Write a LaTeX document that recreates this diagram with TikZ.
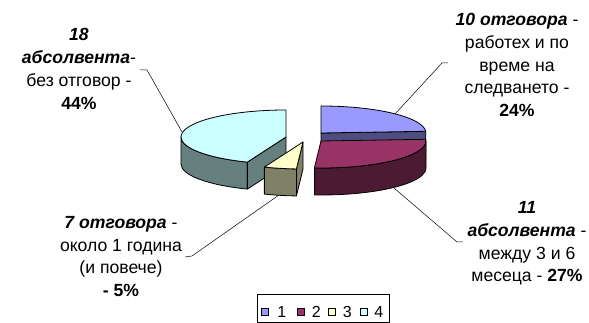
\documentclass[tikz,border=0pt]{standalone}
\usepackage{fontspec}
\setmainfont{Liberation Sans}
\usepackage{tikz}
\usetikzlibrary{positioning}

\definecolor{blueTop}{HTML}{9999FF}
\definecolor{blueSide}{HTML}{4D4D80}
\definecolor{wineTop}{HTML}{993366}
\definecolor{wineSide}{HTML}{4D1A33}
\definecolor{creamTop}{HTML}{FFFFCC}
\definecolor{creamSide}{HTML}{808066}
\definecolor{aquaTop}{HTML}{CCFFFF}
\definecolor{aquaSide}{HTML}{668080}

\tikzset{
  face/.style={draw=black,line width=0.8pt,line join=round},
  lbl/.style={align=center,inner sep=0pt,font=\fontsize{17.6pt}{22.8pt}\selectfont},
  leader/.style={draw=black,line width=0.5pt},
  legsq/.style={draw=black,line width=0.5pt,minimum size=7pt,inner sep=0pt},
  legtxt/.style={inner sep=0pt,font=\fontsize{16pt}{18pt}\selectfont}
}

\begin{document}
\begin{tikzpicture}[x=1pt,y=1pt]
  \useasboundingbox (0,0) rectangle (589,323);

  % Spitzen der Sektoren
  \coordinate (ctrAqua) at (286,186);
  \coordinate (ctrBlue) at (321,190);
  \coordinate (ctrWine) at (321,182);
  \coordinate (ctrCream) at (303,181);

  % Sektor 4 (44%)
  \begin{scope}[shift={(ctrAqua)}]
    \path[face,fill=aquaSide] (180:105pt and 27pt) arc[start angle=180,end angle=248.4,x radius=105pt,y radius=27pt]
      -- ++(0,-27) arc[start angle=248.4,end angle=180,x radius=105pt,y radius=27pt] -- cycle;
    \path[face,fill=aquaSide] (0,0) -- (248.4:105pt and 27pt) -- ++(0,-27) -- (0,-27) -- cycle;
    \path[face,fill=aquaTop] (0,0) -- (90:105pt and 27pt) arc[start angle=90,end angle=248.4,x radius=105pt,y radius=27pt] -- cycle;
  \end{scope}

  % Sektor 1 (24%)
  \begin{scope}[shift={(ctrBlue)}]
    \path[face,fill=blueSide] (0,0) -- (3.6:105pt and 27pt) -- ++(0,-27) -- (0,-27) -- cycle;
    \path[face,fill=blueTop] (0,0) -- (3.6:105pt and 27pt) arc[start angle=3.6,end angle=90,x radius=105pt,y radius=27pt] -- cycle;
  \end{scope}

  % Sektor 2 (27%)
  \begin{scope}[shift={(ctrWine)}]
    \path[face,fill=wineSide] (266.4:105pt and 27pt) arc[start angle=266.4,end angle=360,x radius=105pt,y radius=27pt]
      -- ++(0,-27) arc[start angle=360,end angle=266.4,x radius=105pt,y radius=27pt] -- cycle;
    \path[face,fill=wineTop] (0,0) -- (266.4:105pt and 27pt) arc[start angle=266.4,end angle=363.6,x radius=105pt,y radius=27pt] -- cycle;
  \end{scope}

  % Sektor 3 (5%)
  \begin{scope}[shift={(ctrCream)}]
    \path[face,fill=creamSide] (248.4:105pt and 27pt) arc[start angle=248.4,end angle=266.4,x radius=105pt,y radius=27pt]
      -- ++(0,-27) arc[start angle=266.4,end angle=248.4,x radius=105pt,y radius=27pt] -- cycle;
    \path[face,fill=creamSide] (0,0) -- (266.4:105pt and 27pt) -- ++(0,-27) -- (0,-27) -- cycle;
    \path[face,fill=creamTop] (0,0) -- (248.4:105pt and 27pt) arc[start angle=248.4,end angle=266.4,x radius=105pt,y radius=27pt] -- cycle;
  \end{scope}

  % Beschriftungen
  \node[lbl] (lblAqua) at (79,254) {\textbf{\textit{18}}\\ \textbf{\textit{абсолвента}}-\\ без отговор -\\ \textbf{44\%}};
  \node[lbl] (lblBlue) at (517,258) {\textbf{\textit{10 отговора}} -\\ работех и по\\ време на\\ следването -\\ \textbf{24\%}};
  \node[lbl] (lblWine) at (527,79.5) {\textbf{\textit{11}}\\ \textbf{\textit{абсолвента}} -\\ между 3 и 6\\ месеца - \textbf{27\%}};
  \node[lbl] (lblCream) at (121,66.5) {\textbf{\textit{7 отговора}} -\\ около 1 година\\ (и повече)\\ \textbf{- 5\%}};

  % Hinweislinien
  \coordinate (tickAqua) at (140,253);
  \coordinate (rimAqua) at (182,191);
  \coordinate (tickBlue) at (448,260);
  \coordinate (rimBlue) at (395,209);
  \coordinate (tickCream) at (185,66);
  \coordinate (rimCream) at (279,128);
  \coordinate (tickWine) at (463,81);
  \coordinate (rimWine) at (394,135);
  \draw[leader] (tickAqua) -- ++(7,0) -- (rimAqua);
  \draw[leader] (tickBlue) -- ++(-6,0) -- (rimBlue);
  \draw[leader] (tickCream) -- ++(7,1) -- (rimCream);
  \draw[leader] (tickWine) -- ++(-6,0) -- (rimWine);

  % Legende
  \draw[line width=0.6pt] (257,1) rectangle (389,29);
  \node[legsq,fill=blueTop] (sq1) at (264.5,11) {};
  \node[legtxt,right=9pt of sq1] (key1) {1};
  \node[legsq,fill=wineTop] (sq2) at (301,11) {};
  \node[legtxt,right=7pt of sq2] (key2) {2};
  \node[legsq,fill=creamTop] (sq3) at (332,11) {};
  \node[legtxt,right=7pt of sq3] (key3) {3};
  \node[legsq,fill=aquaTop] (sq4) at (363.5,11) {};
  \node[legtxt,right=7pt of sq4] (key4) {4};
\end{tikzpicture}
\end{document}
